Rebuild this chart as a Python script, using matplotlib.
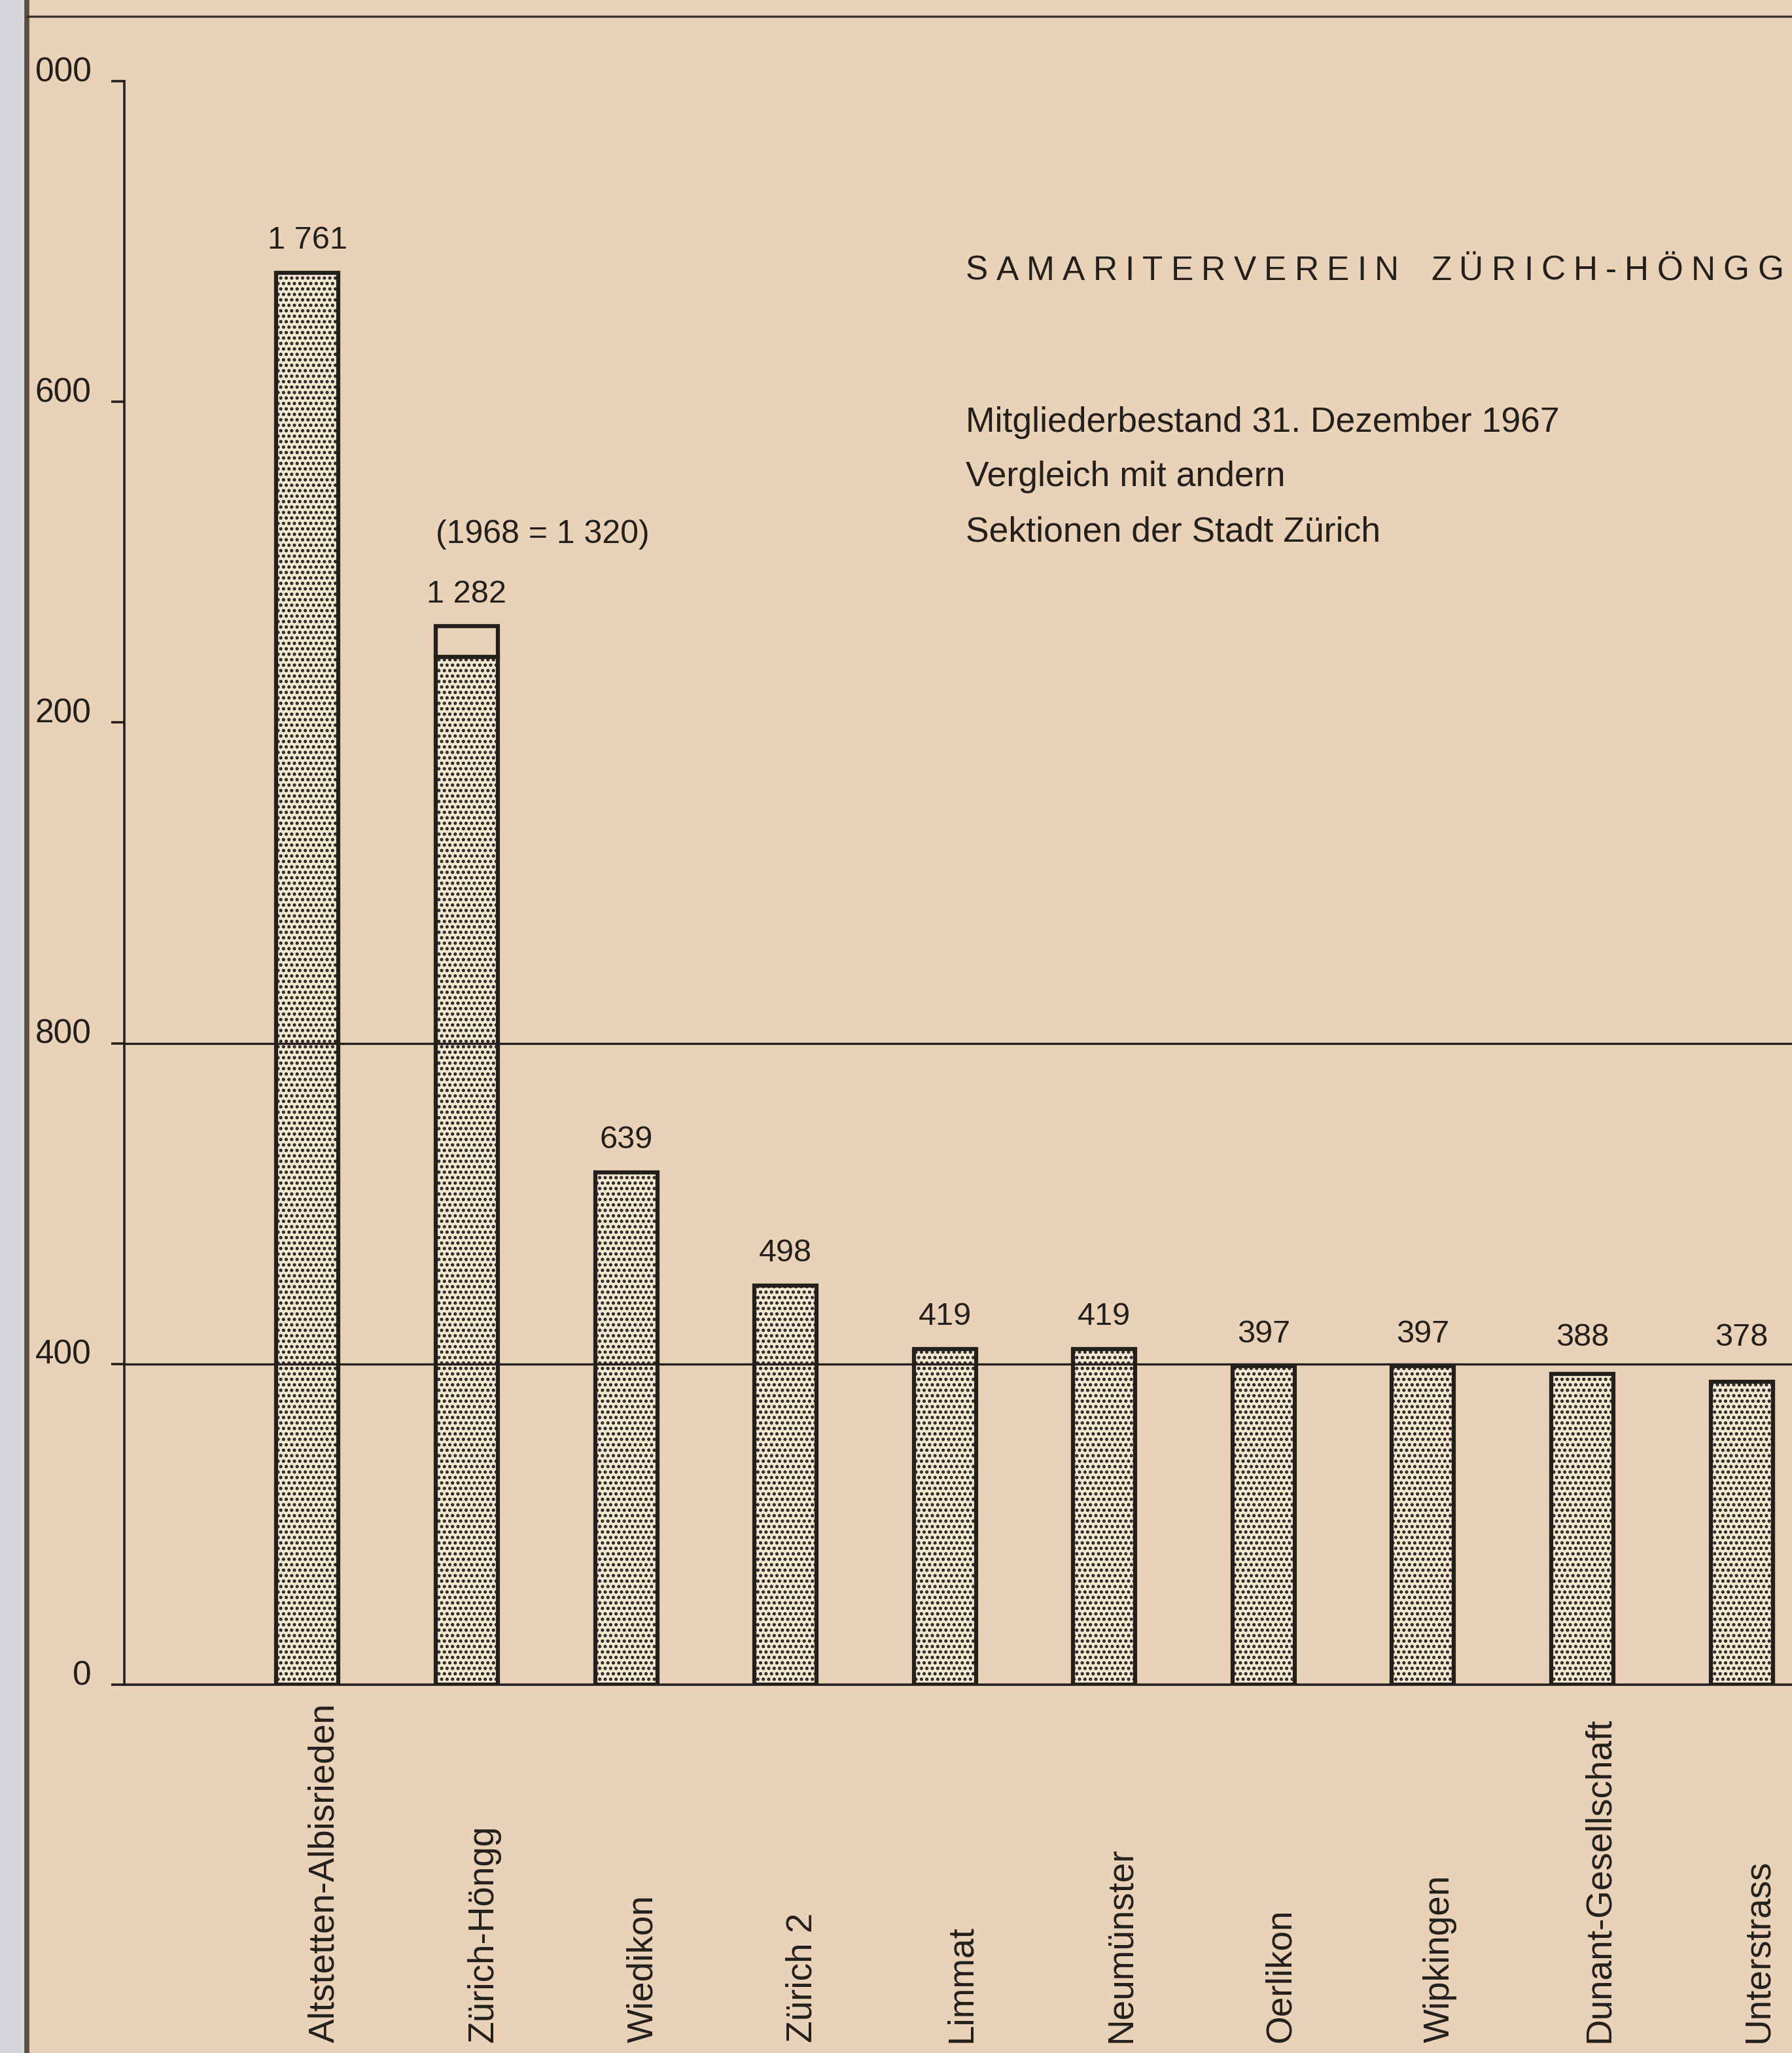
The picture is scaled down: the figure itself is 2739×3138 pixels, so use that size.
import numpy as np
import matplotlib
matplotlib.use('Agg')
import matplotlib.pyplot as plt
from matplotlib.patches import Rectangle
from matplotlib.lines import Line2D
from matplotlib.transforms import blended_transform_factory

plt.rcParams['font.family'] = ['Liberation Sans', 'DejaVu Sans']
plt.rcParams['hatch.linewidth'] = 2.4

# Mitgliederbestand 31.12.1967
sections = ['Altstetten-Albisrieden', 'Zürich-Höngg', 'Wiedikon', 'Zürich 2',
            'Limmat', 'Neumünster', 'Oerlikon', 'Wipkingen',
            'Dunant-Gesellschaft', 'Unterstrass']
members_1967 = [1761, 1282, 639, 498, 419, 419, 397, 397, 388, 378]
hoengg_1968 = 1320
yticks = [0, 400, 800, 1200, 1600, 2000]
ytick_labels = ['0', '400', '800', '200', '600', '000']   # cut off at the paper edge

title = 'SAMARITERVEREIN ZÜRICH-HÖNGG'
subtitle = ['Mitgliederbestand 31. Dezember 1967',
            'Vergleich mit andern',
            'Sektionen der Stadt Zürich']

PAPER = '#e9d2b7'
INK = '#231f1d'
BARFILL = '#f3e7d1'

W, H = 2739, 3138
fig = plt.figure(figsize=(W / 100, H / 100), dpi=100, facecolor=PAPER)

# scanner margin and page frame
fig.patches.append(Rectangle((0, 0), 37 / W, 1, transform=fig.transFigure,
                             facecolor='#d4d6da', edgecolor='none'))
fig.lines.append(Line2D([41 / W, 41 / W], [0, 1], transform=fig.transFigure,
                        color='#5e4e40', lw=5.5))
fig.lines.append(Line2D([41 / W, 1], [1 - 25 / H, 1 - 25 / H],
                        transform=fig.transFigure, color='#3a3330', lw=2.4))

ax = fig.add_axes([190 / W, 1 - 2575 / H, 1 - 190 / W, (2575 - 124) / H])
ax.patch.set_alpha(0)

x = np.arange(len(sections))
width = 0.39

ax.bar(x, members_1967, width=width, facecolor=BARFILL, edgecolor=INK,
       linewidth=4.5, hatch='..', zorder=2)
# Zuwachs 1968 fuer Hoengg
ax.bar(x[1], hoengg_1968 - members_1967[1], bottom=members_1967[1], width=width,
       facecolor=PAPER, edgecolor=INK, linewidth=4.5, zorder=2)

for yl in (400, 800):
    ax.axhline(yl, color=INK, lw=2.4, zorder=3)

ax.set_xlim(-1.149, 9.316)
ax.set_ylim(0, 2000)
ax.spines['top'].set_visible(False)
ax.spines['right'].set_visible(False)
ax.spines['left'].set_bounds(0, 2000)
for s in ('left', 'bottom'):
    ax.spines[s].set_linewidth(2.6)
    ax.spines[s].set_color(INK)
ax.set_xticks([])
ax.set_yticks(yticks)
ax.set_yticklabels(ytick_labels)
ax.tick_params(axis='y', direction='out', length=14.4, width=2.6, pad=22,
               labelsize=37, color=INK, labelcolor=INK)
plt.setp(ax.get_yticklabels(), va='baseline')

# value labels
tops = list(members_1967)
tops[1] = hoengg_1968
for xi, v, top in zip(x, members_1967, tops):
    ax.text(xi, max(top + 30, 423), '{:,}'.format(v).replace(',', ' '),
            ha='center', va='baseline', fontsize=35, color=INK)
ax.text(x[1] - width / 2, hoengg_1968 + 104,
        '(1968 = {:,})'.format(hoengg_1968).replace(',', ' '),
        ha='left', va='baseline', fontsize=36, color=INK)

# category labels, read upwards from the bottom edge
trans = blended_transform_factory(ax.transData, fig.transFigure)
for xi, name in zip(x, sections):
    ax.text(xi + width / 2 - 0.03, 1 - 3122 / H, name, transform=trans,
            rotation=90, rotation_mode='anchor', ha='left', va='baseline',
            fontsize=39.5, color=INK)

# letter-spaced title
fig.canvas.draw()
r = fig.canvas.get_renderer()
widths = []
for ch in title:
    if ch == ' ':
        widths.append(0.0)
        continue
    t = fig.text(0, 0, ch, fontsize=37)
    widths.append(t.get_window_extent(r).width)
    t.remove()
x0, x1 = 1476, 2726
word_gap = 49
n_gaps = len(title) - 1 - 2
gap = (x1 - x0 - sum(widths) - word_gap) / n_gaps
px = x0
for ch, w in zip(title, widths):
    if ch == ' ':
        px += word_gap - gap
        continue
    fig.text(px / W, 1 - 428 / H, ch, fontsize=37, color=INK,
             ha='left', va='baseline')
    px += w + gap

for line, base in zip(subtitle, (660, 743, 827)):
    fig.text(1476 / W, 1 - base / H, line, fontsize=38.5, color=INK,
             ha='left', va='baseline')

fig.savefig('out.png', dpi=100, facecolor=PAPER)
